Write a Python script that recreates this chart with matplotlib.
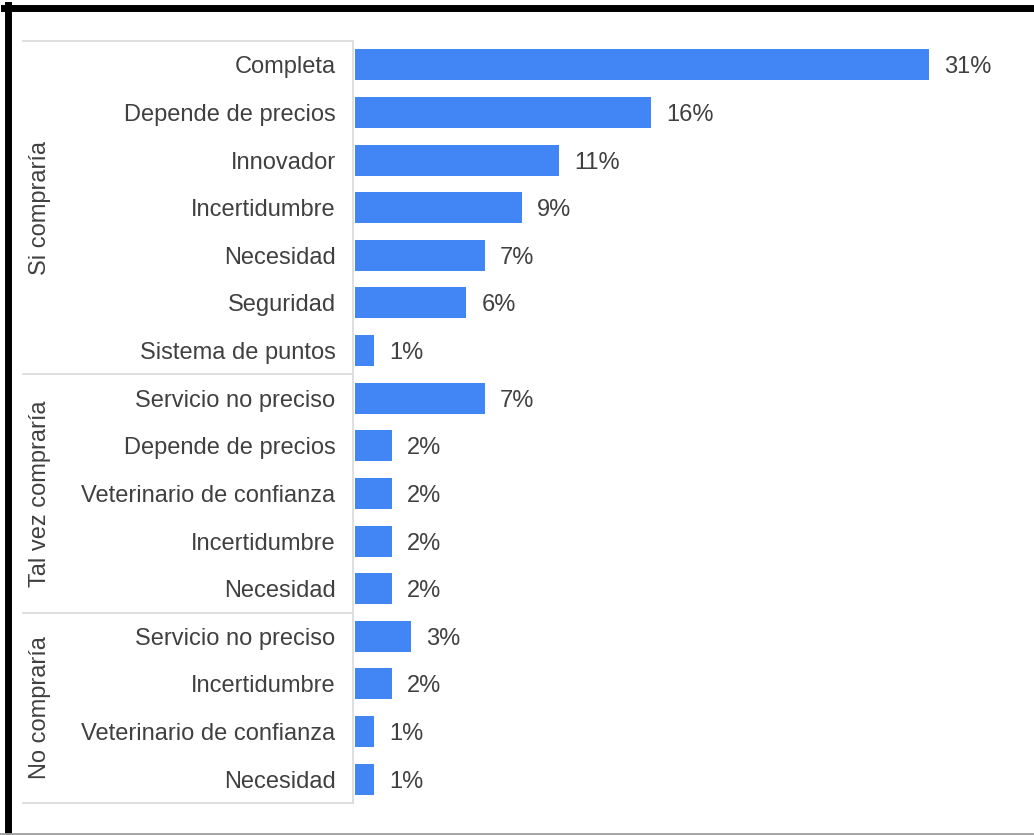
import matplotlib
matplotlib.use("Agg")
import matplotlib.pyplot as plt
from matplotlib.lines import Line2D
from matplotlib.transforms import blended_transform_factory

plt.rcParams['font.family'] = ['Liberation Sans', 'DejaVu Sans']

# Survey answers, grouped by purchase intention (percent of respondents)
groups = ["Si compraría", "Tal vez compraría", "No compraría"]
si_labels = ["Completa", "Depende de precios", "Innovador", "Incertidumbre",
             "Necesidad", "Seguridad", "Sistema de puntos"]
si_values = [31, 16, 11, 9, 7, 6, 1]
talvez_labels = ["Servicio no preciso", "Depende de precios",
                 "Veterinario de confianza", "Incertidumbre", "Necesidad"]
talvez_values = [7, 2, 2, 2, 2]
no_labels = ["Servicio no preciso", "Incertidumbre",
             "Veterinario de confianza", "Necesidad"]
no_values = [3, 2, 1, 1]

labels = si_labels + talvez_labels + no_labels
values = si_values + talvez_values + no_values
group_sizes = [len(si_labels), len(talvez_labels), len(no_labels)]

W, H = 1034, 835
fig = plt.figure(figsize=(W / 100, H / 100), dpi=100)
fig.patch.set_facecolor("white")

left_px, right_px, top_px, bottom_px = 355, 1034, 41, 803
ax = fig.add_axes([left_px / W, (H - bottom_px) / H,
                   (right_px - left_px) / W, (bottom_px - top_px) / H])

bar_color = "#4285F4"
text_color = "#404040"
fs = 17

ypos = list(range(len(values)))
ax.barh(ypos, values, height=0.65, color=bar_color)
ax.set_ylim(len(values) - 0.5, -0.5)
ax.set_xlim(0, 36.7)

for y, v in zip(ypos, values):
    ax.annotate(f"{v}%", xy=(v, y), xytext=(11, 0), textcoords="offset points",
                va="center_baseline", ha="left", fontsize=fs, color=text_color)

ax.set_yticks(ypos)
ax.set_yticklabels(labels, fontsize=fs, color=text_color)
ax.tick_params(axis="y", length=0, pad=14)
ax.set_xticks([])
for s in ax.spines.values():
    s.set_visible(False)

# Category panel: frame lines and group separators
trans = blended_transform_factory(fig.transFigure, ax.transData)
panel_l, panel_r = 23 / W, 353 / W
line_kw = dict(color="#dcdcdc", lw=1.3, transform=trans, clip_on=False)
ax.add_line(Line2D([panel_l, panel_r], [-0.5, -0.5], **line_kw))
ax.add_line(Line2D([panel_l, panel_r], [len(values) - 0.5] * 2, **line_kw))
ax.add_line(Line2D([panel_r, panel_r], [-0.5, len(values) - 0.5], **line_kw))

start = 0
for name, n in zip(groups, group_sizes):
    end = start + n
    if end < len(values):
        ax.add_line(Line2D([panel_l, panel_r], [end - 0.5] * 2, **line_kw))
    ax.text(40 / W, (start + end - 1) / 2, name, transform=trans, rotation=90,
            ha="center", va="center", fontsize=fs, color=text_color)
    start = end

# Window frame
fig.add_artist(Line2D([4 / W, 1], [1 - 8 / H, 1 - 8 / H], color="black",
                      lw=5, transform=fig.transFigure))
fig.add_artist(Line2D([7.5 / W, 7.5 / W], [0, 1 - 5 / H], color="black",
                      lw=5, transform=fig.transFigure))
fig.add_artist(Line2D([0, 1], [1.5 / H, 1.5 / H], color="#a0a0a0",
                      lw=2, transform=fig.transFigure))

fig.savefig("out.png", dpi=100, facecolor="white")
